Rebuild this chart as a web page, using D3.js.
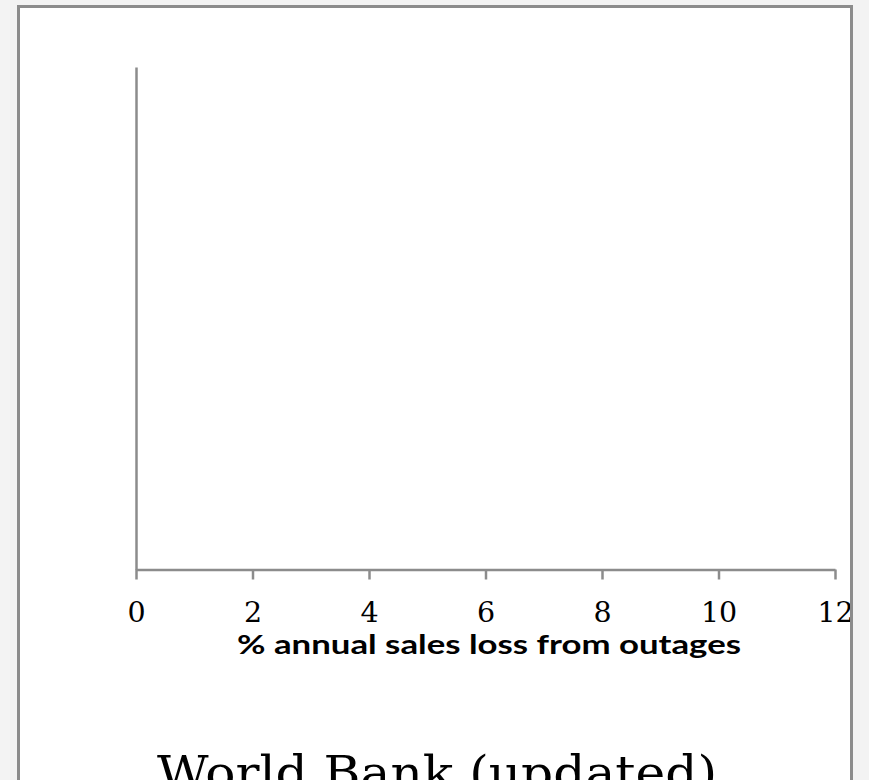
<!DOCTYPE html>
<html>
<head>
<meta charset="utf-8">
<script src="https://cdn.jsdelivr.net/npm/d3@7/dist/d3.min.js"></script>
<style>
  html, body { margin: 0; padding: 0; background: #f3f3f3; }
  svg { display: block; }
</style>
</head>
<body>
<svg id="chart" width="869" height="780"></svg>
<script>
// ---- data ----
const xTicks = [0, 2, 4, 6, 8, 10, 12];
const xDomain = [0, 12];
const yDomain = [0, 1];
const points = [];           // no data points are visible in the chart
const xLabel = "% annual sales loss from outages";
const title = "World Bank (updated)";

// ---- drawing ----
const svg = d3.select("#chart");

// frame (panel)
svg.append("rect")
  .attr("x", 18.5).attr("y", 6.5)
  .attr("width", 833).attr("height", 820)
  .attr("fill", "#ffffff")
  .attr("stroke", "#8c8c8c").attr("stroke-width", 3);

svg.append("clipPath").attr("id", "panel")
  .append("rect").attr("x", 20).attr("y", 8).attr("width", 830).attr("height", 820);

const g = svg.append("g").attr("clip-path", "url(#panel)");

const x = d3.scaleLinear().domain(xDomain).range([136, 835]);
const y = d3.scaleLinear().domain(yDomain).range([569.5, 67]);

// x axis
const xAxis = g.append("g")
  .attr("transform", `translate(0,${y(0)})`)
  .call(d3.axisBottom(x).tickValues(xTicks).tickSize(10).tickSizeOuter(0));
xAxis.select(".domain").attr("stroke", "#8c8c8c").attr("stroke-width", 2.5);
xAxis.selectAll(".tick line").attr("stroke", "#8c8c8c").attr("stroke-width", 2.5);
xAxis.selectAll(".tick text")
  .attr("font-family", "'DejaVu Serif', serif")
  .attr("font-size", 28.5)
  .attr("fill", "#000")
  .attr("dy", null)
  .attr("y", 52);

// y axis (no ticks)
const yAxis = g.append("g")
  .attr("transform", `translate(${x(0)},0)`)
  .call(d3.axisLeft(y).tickValues([]).tickSizeOuter(0));
yAxis.select(".domain").attr("stroke", "#8c8c8c").attr("stroke-width", 2.5);

// points (none)
g.selectAll("circle.pt").data(points).join("circle")
  .attr("class", "pt")
  .attr("cx", d => x(d.x)).attr("cy", d => y(d.y)).attr("r", 5);

// x label
g.append("text")
  .attr("x", 237).attr("y", 654)
  .attr("font-family", "Lato, 'Liberation Sans', sans-serif")
  .attr("font-weight", "bold")
  .attr("font-size", 27)
  .attr("textLength", 504)
  .attr("lengthAdjust", "spacingAndGlyphs")
  .attr("fill", "#000")
  .text(xLabel);

// title
g.append("text")
  .attr("x", 157).attr("y", 789)
  .attr("font-family", "'DejaVu Serif', serif")
  .attr("font-size", 47)
  .attr("textLength", 560)
  .attr("lengthAdjust", "spacingAndGlyphs")
  .attr("fill", "#000")
  .text(title);
</script>
</body>
</html>
